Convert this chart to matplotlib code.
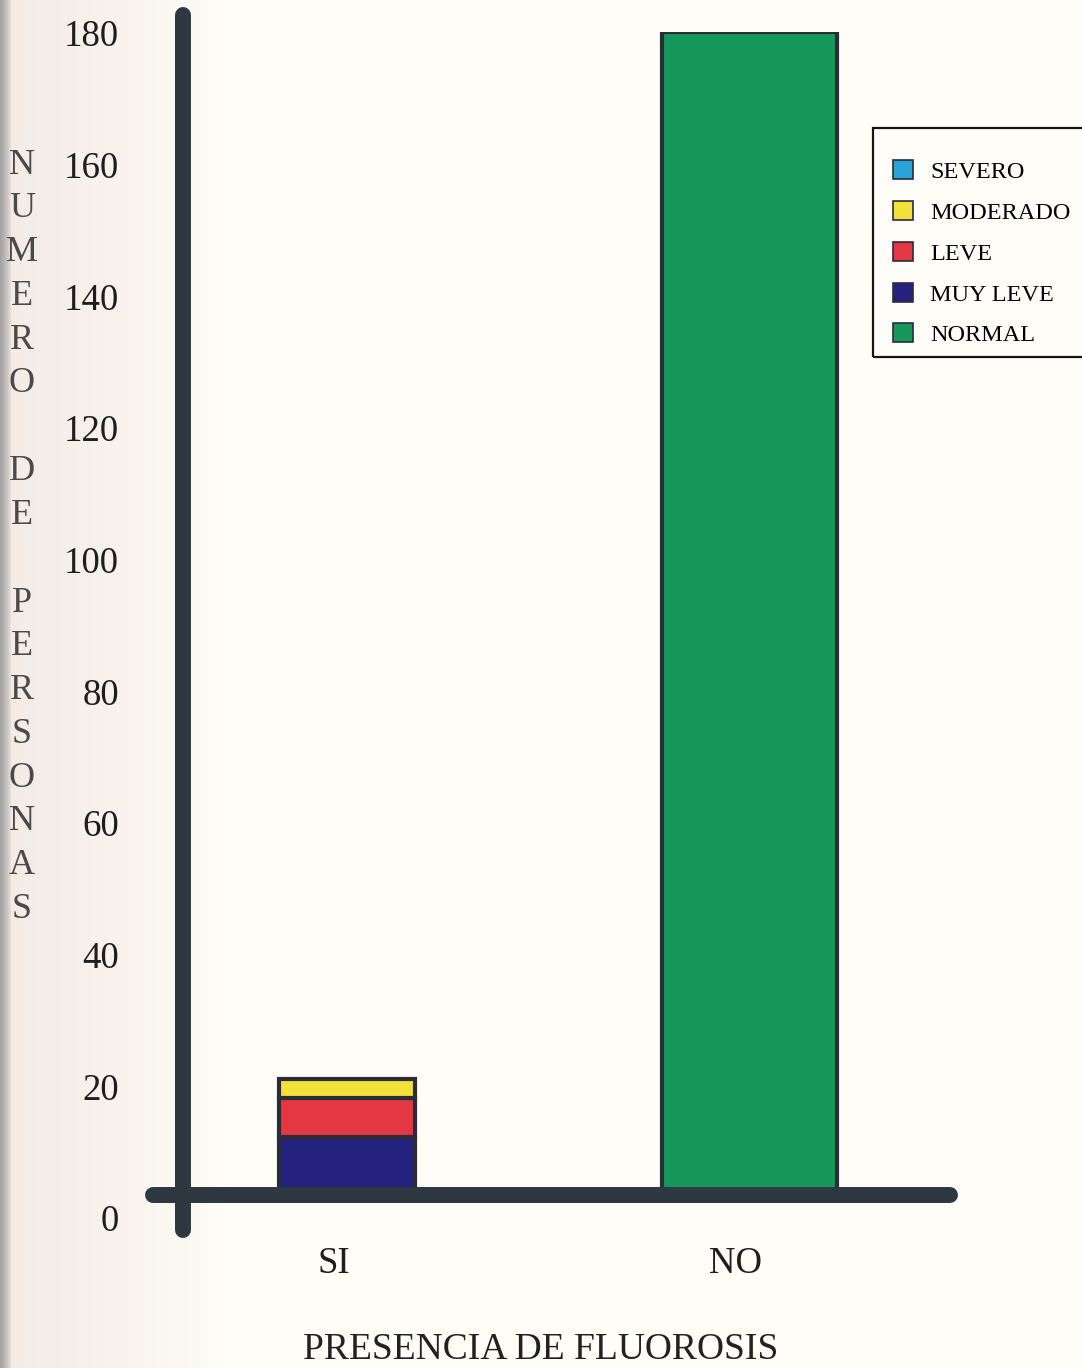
import numpy as np
import matplotlib
matplotlib.use("Agg")
import matplotlib.pyplot as plt
from matplotlib.patches import Patch, Rectangle
from matplotlib.transforms import ScaledTranslation

# ---- data -------------------------------------------------------------
categories = ["SI", "NO"]
severity_levels = ["SEVERO", "MODERADO", "LEVE", "MUY LEVE", "NORMAL"]
# number of persons per severity level for each category (SI, NO)
severo = [0, 0]
moderado = [3, 0]
leve = [6, 0]
muy_leve = [9, 0]
normal = [0, 180]
y_ticks = [0, 20, 40, 60, 80, 100, 120, 140, 160, 180]

colors = {
    "SEVERO": "#2aa4d8",
    "MODERADO": "#f3e03a",
    "LEVE": "#e33843",
    "MUY LEVE": "#24217f",
    "NORMAL": "#17985a",
}

W, H, DPI = 1082, 1368, 100
serif = "Liberation Serif"
axis_color = "#2d3840"
edge_color = "#2a2d38"

fig = plt.figure(figsize=(W / DPI, H / DPI), dpi=DPI)
fig.patch.set_facecolor("#fffef8")

# paper background: grey fold at the left edge fading into warm white
bg = fig.add_axes([0, 0, 1, 1], zorder=-10)
xs = np.arange(W)
shade = np.clip(1 - xs / 11.0, 0, 1) ** 0.7
warm = np.clip(1 - xs / 230.0, 0, 1) ** 0.8
base = np.array([1.0, 0.996, 0.975])
grey = np.array([0.64, 0.64, 0.63])
pink = np.array([0.955, 0.92, 0.895])
row = base[None, :] * (1 - warm[:, None]) + pink[None, :] * warm[:, None]
row = row * (1 - shade[:, None]) + grey[None, :] * shade[:, None]
img = np.repeat(row[None, :, :], 4, axis=0)
bg.imshow(img, aspect="auto", extent=[0, 1, 0, 1])
bg.set_axis_off()

# horizontal layout shared by both axes
x_left_px, x_right_px = 183, 958
xlim = (-0.4087, 1.5170)
ax_l = x_left_px / W
ax_w = (x_right_px - x_left_px) / W

# scale axes carrying the numeric labels
ax = fig.add_axes([ax_l, (H - 1218) / H, ax_w, (1218 - 33) / H])
ax.set_xlim(*xlim)
ax.set_ylim(0, 180)
ax.patch.set_visible(False)
for s in ax.spines.values():
    s.set_visible(False)
ax.set_xticks([])
ax.set_yticks(y_ticks)
ax.set_yticklabels([str(t) for t in y_ticks], fontsize=26.5, family=serif,
                   color="#1e1e1e")
ax.tick_params(axis="y", length=0, pad=46)

# bar axes, zero sits on the thick base line
bx = fig.add_axes([ax_l, (H - 1195) / H, ax_w, (1195 - 32) / H])
bx.set_xlim(*xlim)
bx.set_ylim(0, 180)
bx.patch.set_visible(False)

x = np.arange(len(categories))
widths = [0.338, 0.435]
stack = [("NORMAL", normal), ("MUY LEVE", muy_leve), ("LEVE", leve),
         ("MODERADO", moderado), ("SEVERO", severo)]
bottom = np.zeros(len(categories))
for name, vals in stack:
    vals = np.asarray(vals, dtype=float)
    mask = vals > 0
    bx.bar(x[mask], vals[mask], width=np.asarray(widths)[mask],
           bottom=bottom[mask], color=colors[name], edgecolor=edge_color,
           linewidth=3.0, zorder=1)
    bottom += vals

for side in ("top", "right"):
    bx.spines[side].set_visible(False)
for side in ("left", "bottom"):
    sp = bx.spines[side]
    sp.set_linewidth(11.5)
    sp.set_color(axis_color)
    sp.set_capstyle("round")
    sp.set_zorder(3)
bx.spines["left"].set_bounds(-5.4, 182.6)
bx.spines["bottom"].set_bounds(-0.483, 1.497)

bx.set_yticks([])
bx.set_xticks(x)
bx.set_xticklabels(categories, fontsize=26.5, family=serif, color="#1e1e1e")
bx.tick_params(axis="x", length=0, pad=37)
shift = ScaledTranslation(-14 / DPI, 0, fig.dpi_scale_trans)
for lab in bx.get_xticklabels():
    lab.set_transform(lab.get_transform() + shift)

# vertical axis title, one letter per line
title = "NUMERO DE PERSONAS"
for i, ch in enumerate(title):
    if ch == " ":
        continue
    fig.text(22 / W, 1 - (165 + 43.8 * i) / H, ch, ha="center", va="center",
             fontsize=26, family=serif, color="#4a4a4a")

fig.text(541 / W, 1 - 1350 / H, "PRESENCIA DE FLUOROSIS", ha="center",
         va="center", fontsize=27, family=serif, color="#222222")

# legend box running off the right edge
fig.patches.append(Rectangle((873 / W, 1 - 357 / H), 240 / W, 229 / H,
                             transform=fig.transFigure, facecolor="none",
                             edgecolor="#151515", linewidth=1.6))
handles = [Patch(facecolor=colors[n], edgecolor=edge_color, linewidth=1.2)
           for n in severity_levels]
leg = fig.legend(handles, severity_levels, loc="upper left",
                 bbox_to_anchor=(893 / W, 1 - 160 / H), frameon=False,
                 prop={"family": serif, "size": 17.5}, handlelength=0.82,
                 handleheight=0.82, handletextpad=0.72, labelspacing=0.74,
                 borderpad=0, borderaxespad=0)

fig.savefig("out.png", dpi=DPI)
